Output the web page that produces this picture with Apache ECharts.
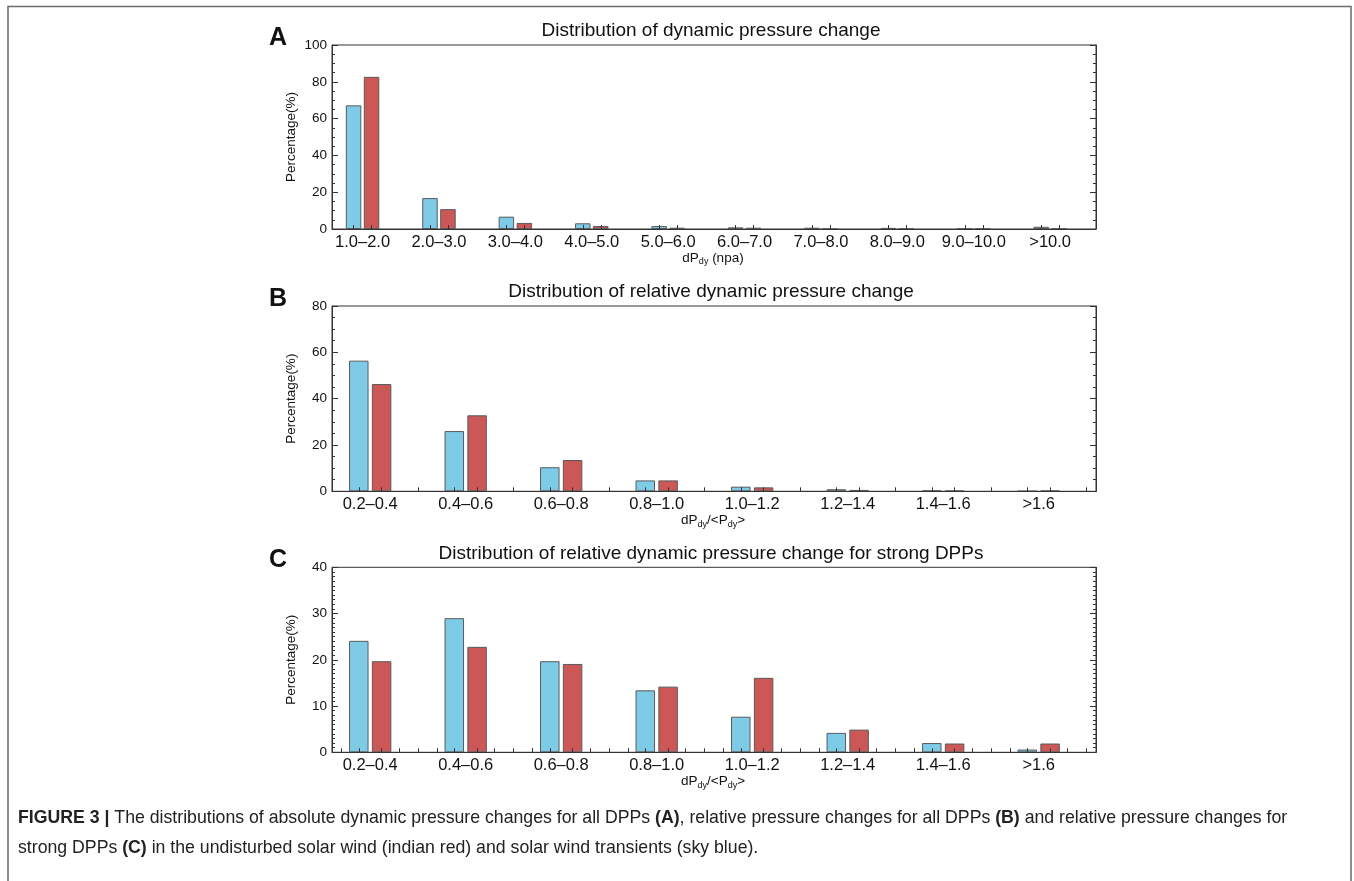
<!DOCTYPE html>
<html>
<head>
<meta charset="utf-8">
<script src="https://cdn.jsdelivr.net/npm/echarts@6/dist/echarts.min.js"></script>
<style>
html,body{margin:0;padding:0;background:#fff;}
#chart{width:1354px;height:881px;}
</style>
</head>
<body>
<div id="chart"></div>
<script>
// ---------------- data ----------------
var categoriesA = ['1.0–2.0','2.0–3.0','3.0–4.0','4.0–5.0','5.0–6.0','6.0–7.0','7.0–8.0','8.0–9.0','9.0–10.0','>10.0'];
var transientsA  = [67.2, 16.8, 6.7, 3.1, 1.6, 0.9, 0.7, 0.6, 0.3, 1.2];   // sky blue
var undisturbedA = [82.7, 10.8, 3.3, 1.6, 0.7, 0.7, 0.1, 0.3, 0.2, 0.3];   // indian red

var categoriesB = ['0.2–0.4','0.4–0.6','0.6–0.8','0.8–1.0','1.0–1.2','1.2–1.4','1.4–1.6','>1.6'];
var transientsB  = [56.4, 26.0, 10.4, 4.7, 2.0, 0.9, 0.4, 0.1];
var undisturbedB = [46.3, 32.8, 13.5, 4.7, 1.7, 0.6, 0.3, 0.3];

var categoriesC = ['0.2–0.4','0.4–0.6','0.6–0.8','0.8–1.0','1.0–1.2','1.2–1.4','1.4–1.6','>1.6'];
var transientsC  = [24.1, 29.0, 19.7, 13.4, 7.7, 4.2, 2.0, 0.6];
var undisturbedC = [19.7, 22.8, 19.1, 14.2, 16.1, 4.9, 1.9, 1.9];

var yTicksA = [0, 20, 40, 60, 80, 100];
var yTicksB = [0, 20, 40, 60, 80];
var yTicksC = [0, 10, 20, 30, 40];

var titles = [
  'Distribution of dynamic pressure change',
  'Distribution of relative dynamic pressure change',
  'Distribution of relative dynamic pressure change for strong DPPs'
];
var panelLetters = ['A', 'B', 'C'];
var yName = 'Percentage(%)';
// ---------------- styling ----------------
var FONT = '"Liberation Sans", Arial, Helvetica, sans-serif';
var BLUE = '#7ecbe8';
var RED = '#cb5757';
var EDGE = '#5a5a5a';

var panels = [
  {cats: categoriesA, blue: transientsA, red: undisturbedA, yt: yTicksA, top: 45, height: 184, barW: 15.5, gap: '16%', minor: 4, xtitle: '{a|dP}{s|dy}{a| (npa)}'},
  {cats: categoriesB, blue: transientsB, red: undisturbedB, yt: yTicksB, top: 306, height: 185.3, barW: 19.5, gap: '17%', minor: 4, xtitle: '{a|dP}{s|dy}{a|/<P}{s|dy}{a|>}'},
  {cats: categoriesC, blue: transientsC, red: undisturbedC, yt: yTicksC, top: 567.3, height: 185, barW: 19.5, gap: '17%', minor: 10, xtitle: '{a|dP}{s|dy}{a|/<P}{s|dy}{a|>}'}
];
var GRID_LEFT = 332, GRID_W = 764;

var grids = [], xAxes = [], yAxes = [], series = [], graphics = [];

panels.forEach(function (p, k) {
  var n = p.cats.length;
  var pxPerUnit = GRID_W / n;
  var gapPx = p.barW * parseFloat(p.gap) / 100;
  var d = (p.barW + gapPx) / 2 / pxPerUnit;
  var tickVals = [];
  for (var i = 0; i < n; i++) {
    tickVals.push(i - d, i + d);
    if (k > 0) { tickVals.push(i + 0.5); }
    if (k === 2) { tickVals.push(i - 0.3, i + 0.3, i + 0.7); }
  }
  var labelVals = p.cats.map(function (c, i) { return i; });

  grids.push({left: GRID_LEFT, top: p.top, width: GRID_W, height: p.height,
    show: true, borderColor: '#333', borderWidth: 1, backgroundColor: 'transparent'});

  xAxes.push({
    type: 'value', gridIndex: k, min: -0.4, max: n - 0.4, z: 5,
    axisLine: {show: true, onZero: false, lineStyle: {color: '#333', width: 1}},
    axisTick: {show: true, inside: true, length: 4, customValues: tickVals, lineStyle: {color: '#333'}},
    axisLabel: {show: true, customValues: labelVals, margin: 5, color: '#111', fontSize: 16.5, fontFamily: FONT,
      formatter: function (v) { return p.cats[Math.round(v)]; }},
    splitLine: {show: false}
  });

  var ymax = p.yt[p.yt.length - 1];
  var yint = p.yt[1] - p.yt[0];
  yAxes.push({
    type: 'value', gridIndex: k, position: 'left', min: 0, max: ymax, interval: yint, z: 5,
    axisLine: {show: true, onZero: false, lineStyle: {color: '#333'}},
    axisTick: {show: true, inside: true, length: 6, lineStyle: {color: '#333'}},
    minorTick: {show: true, splitNumber: p.minor, length: 3, lineStyle: {color: '#333'}},
    axisLabel: {show: true, margin: 5, color: '#111', fontSize: 13.5, fontFamily: FONT},
    splitLine: {show: false}
  });
  yAxes.push({
    type: 'value', gridIndex: k, position: 'right', min: 0, max: ymax, interval: yint, z: 5,
    axisLine: {show: true, onZero: false, lineStyle: {color: '#333'}},
    axisTick: {show: true, inside: true, length: 6, lineStyle: {color: '#333'}},
    minorTick: {show: true, splitNumber: p.minor, length: 3, lineStyle: {color: '#333'}},
    axisLabel: {show: false},
    splitLine: {show: false}
  });

  var common = {type: 'bar', xAxisIndex: k, yAxisIndex: 2 * k, barWidth: p.barW, barGap: p.gap, z: 2};
  series.push(Object.assign({}, common, {
    name: 'transients',
    data: p.blue.map(function (v, i) { return [i, v]; }),
    itemStyle: {color: BLUE, borderColor: EDGE, borderWidth: 1}
  }));
  series.push(Object.assign({}, common, {
    name: 'undisturbed',
    data: p.red.map(function (v, i) { return [i, v]; }),
    itemStyle: {color: RED, borderColor: EDGE, borderWidth: 1}
  }));

  var gy = p.top, gh = p.height;
  graphics.push({type: 'text', x: 711, y: gy - 14, silent: true,
    style: {text: titles[k], fontSize: 19, fontFamily: FONT, fill: '#111', align: 'center', verticalAlign: 'middle'}});
  graphics.push({type: 'text', x: 278, y: gy - 7, silent: true,
    style: {text: panelLetters[k], fontSize: 25, fontWeight: 'bold', fontFamily: FONT, fill: '#111', align: 'center', verticalAlign: 'middle'}});
  graphics.push({type: 'text', x: 291, y: gy + gh / 2, rotation: Math.PI / 2, silent: true,
    style: {text: yName, fontSize: 13.5, fontFamily: FONT, fill: '#111', align: 'center', verticalAlign: 'middle'}});
  graphics.push({type: 'text', x: 713, y: gy + gh + 29, silent: true,
    style: {text: p.xtitle, fontFamily: FONT, fill: '#111', align: 'center', verticalAlign: 'middle',
      rich: {
        a: {fontSize: 13.5, fontFamily: FONT, fill: '#111', lineHeight: 18},
        s: {fontSize: 9, fontFamily: FONT, fill: '#111', lineHeight: 18, padding: [8, 0, 0, 0]}
      }}});
});

// figure border
graphics.push({type: 'rect', silent: true, z: -1,
  shape: {x: 8, y: 6.5, width: 1343, height: 900},
  style: {fill: 'none', stroke: '#6a6a6a', lineWidth: 1.5}});

// caption
var captionRich = {
  r: {fontSize: 17.7, fontFamily: FONT, fill: '#222'},
  b: {fontSize: 17.7, fontFamily: FONT, fontWeight: 'bold', fill: '#222'}
};
graphics.push({type: 'text', x: 18, y: 818, silent: true,
  style: {text: '{b|FIGURE 3 |}{r| The distributions of absolute dynamic pressure changes for all DPPs }{b|(A)}{r|, relative pressure changes for all DPPs }{b|(B)}{r| and relative pressure changes for}',
    align: 'left', verticalAlign: 'middle', rich: captionRich}});
graphics.push({type: 'text', x: 18, y: 848, silent: true,
  style: {text: '{r|strong DPPs }{b|(C)}{r| in the undisturbed solar wind (indian red) and solar wind transients (sky blue).}',
    align: 'left', verticalAlign: 'middle', rich: captionRich}});

var chart = echarts.init(document.getElementById('chart'), null, {renderer: 'canvas'});
chart.setOption({
  animation: false,
  backgroundColor: '#fff',
  grid: grids,
  xAxis: xAxes,
  yAxis: yAxes,
  series: series,
  graphic: graphics
});
</script>
</body>
</html>
